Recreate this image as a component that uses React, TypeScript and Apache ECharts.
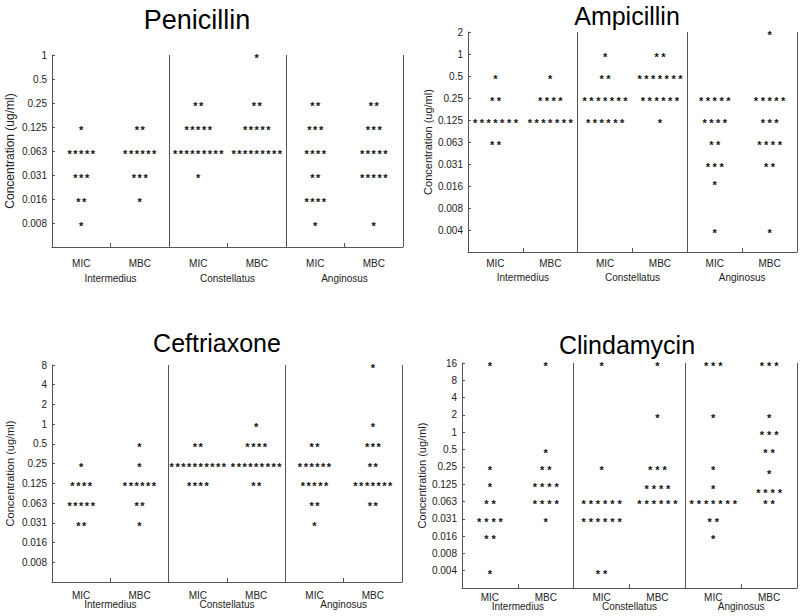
import React, { useEffect, useRef } from 'react';
import * as echarts from 'echarts';

// Tick levels of the concentration axis (log2 spaced)
const TICK_VALUES = [0.004, 0.008, 0.016, 0.031, 0.063, 0.125, 0.25, 0.5, 1, 2, 4, 8, 16];
const TICK_LABELS = ['0.004', '0.008', '0.016', '0.031', '0.063', '0.125', '0.25', '0.5', '1', '2', '4', '8', '16'];
const GROUPS = ['Intermedius', 'Constellatus', 'Anginosus'];
const TESTS = ['MIC', 'MBC'];
const Y_NAME = 'Concentration (ug/ml)';

// rows: [group, test, concentration, number of isolates]
const PENICILLIN: [string, string, number, number][] = [
  ['Intermedius', 'MIC', 0.125, 1], ['Intermedius', 'MIC', 0.063, 5], ['Intermedius', 'MIC', 0.031, 3],
  ['Intermedius', 'MIC', 0.016, 2], ['Intermedius', 'MIC', 0.008, 1],
  ['Intermedius', 'MBC', 0.125, 2], ['Intermedius', 'MBC', 0.063, 6], ['Intermedius', 'MBC', 0.031, 3],
  ['Intermedius', 'MBC', 0.016, 1],
  ['Constellatus', 'MIC', 0.25, 2], ['Constellatus', 'MIC', 0.125, 5], ['Constellatus', 'MIC', 0.063, 9],
  ['Constellatus', 'MIC', 0.031, 1],
  ['Constellatus', 'MBC', 1, 1], ['Constellatus', 'MBC', 0.25, 2], ['Constellatus', 'MBC', 0.125, 5],
  ['Constellatus', 'MBC', 0.063, 9],
  ['Anginosus', 'MIC', 0.25, 2], ['Anginosus', 'MIC', 0.125, 3], ['Anginosus', 'MIC', 0.063, 4],
  ['Anginosus', 'MIC', 0.031, 2], ['Anginosus', 'MIC', 0.016, 4], ['Anginosus', 'MIC', 0.008, 1],
  ['Anginosus', 'MBC', 0.25, 2], ['Anginosus', 'MBC', 0.125, 3], ['Anginosus', 'MBC', 0.063, 5],
  ['Anginosus', 'MBC', 0.031, 5], ['Anginosus', 'MBC', 0.008, 1],
];

const AMPICILLIN: [string, string, number, number][] = [
  ['Intermedius', 'MIC', 0.5, 1], ['Intermedius', 'MIC', 0.25, 2], ['Intermedius', 'MIC', 0.125, 7],
  ['Intermedius', 'MIC', 0.063, 2],
  ['Intermedius', 'MBC', 0.5, 1], ['Intermedius', 'MBC', 0.25, 4], ['Intermedius', 'MBC', 0.125, 7],
  ['Constellatus', 'MIC', 1, 1], ['Constellatus', 'MIC', 0.5, 2], ['Constellatus', 'MIC', 0.25, 7],
  ['Constellatus', 'MIC', 0.125, 6],
  ['Constellatus', 'MBC', 1, 2], ['Constellatus', 'MBC', 0.5, 7], ['Constellatus', 'MBC', 0.25, 6],
  ['Constellatus', 'MBC', 0.125, 1],
  ['Anginosus', 'MIC', 0.25, 5], ['Anginosus', 'MIC', 0.125, 4], ['Anginosus', 'MIC', 0.063, 2],
  ['Anginosus', 'MIC', 0.031, 3], ['Anginosus', 'MIC', 0.018, 1], ['Anginosus', 'MIC', 0.004, 1],
  ['Anginosus', 'MBC', 2, 1], ['Anginosus', 'MBC', 0.25, 5], ['Anginosus', 'MBC', 0.125, 3],
  ['Anginosus', 'MBC', 0.063, 4], ['Anginosus', 'MBC', 0.031, 2], ['Anginosus', 'MBC', 0.004, 1],
];

const CEFTRIAXONE: [string, string, number, number][] = [
  ['Intermedius', 'MIC', 0.25, 1], ['Intermedius', 'MIC', 0.125, 4], ['Intermedius', 'MIC', 0.063, 5],
  ['Intermedius', 'MIC', 0.031, 2],
  ['Intermedius', 'MBC', 0.5, 1], ['Intermedius', 'MBC', 0.25, 1], ['Intermedius', 'MBC', 0.125, 6],
  ['Intermedius', 'MBC', 0.063, 2], ['Intermedius', 'MBC', 0.031, 1],
  ['Constellatus', 'MIC', 0.5, 2], ['Constellatus', 'MIC', 0.25, 10], ['Constellatus', 'MIC', 0.125, 4],
  ['Constellatus', 'MBC', 1, 1], ['Constellatus', 'MBC', 0.5, 4], ['Constellatus', 'MBC', 0.25, 9],
  ['Constellatus', 'MBC', 0.125, 2],
  ['Anginosus', 'MIC', 0.5, 2], ['Anginosus', 'MIC', 0.25, 6], ['Anginosus', 'MIC', 0.125, 5],
  ['Anginosus', 'MIC', 0.063, 2], ['Anginosus', 'MIC', 0.031, 1],
  ['Anginosus', 'MBC', 8, 1], ['Anginosus', 'MBC', 1, 1], ['Anginosus', 'MBC', 0.5, 3],
  ['Anginosus', 'MBC', 0.25, 2], ['Anginosus', 'MBC', 0.125, 7], ['Anginosus', 'MBC', 0.063, 2],
];

const CLINDAMYCIN: [string, string, number, number][] = [
  ['Intermedius', 'MIC', 16, 1], ['Intermedius', 'MIC', 0.25, 1], ['Intermedius', 'MIC', 0.125, 1],
  ['Intermedius', 'MIC', 0.063, 2], ['Intermedius', 'MIC', 0.031, 4], ['Intermedius', 'MIC', 0.016, 2],
  ['Intermedius', 'MIC', 0.004, 1],
  ['Intermedius', 'MBC', 16, 1], ['Intermedius', 'MBC', 0.5, 1], ['Intermedius', 'MBC', 0.25, 2],
  ['Intermedius', 'MBC', 0.125, 4], ['Intermedius', 'MBC', 0.063, 4], ['Intermedius', 'MBC', 0.031, 1],
  ['Constellatus', 'MIC', 16, 1], ['Constellatus', 'MIC', 0.25, 1], ['Constellatus', 'MIC', 0.063, 6],
  ['Constellatus', 'MIC', 0.031, 6], ['Constellatus', 'MIC', 0.004, 2],
  ['Constellatus', 'MBC', 16, 1], ['Constellatus', 'MBC', 2, 1], ['Constellatus', 'MBC', 0.25, 3],
  ['Constellatus', 'MBC', 0.114, 4], ['Constellatus', 'MBC', 0.063, 6],
  ['Anginosus', 'MIC', 16, 3], ['Anginosus', 'MIC', 2, 1], ['Anginosus', 'MIC', 0.25, 1],
  ['Anginosus', 'MIC', 0.114, 1], ['Anginosus', 'MIC', 0.063, 7], ['Anginosus', 'MIC', 0.031, 2],
  ['Anginosus', 'MIC', 0.016, 1],
  ['Anginosus', 'MBC', 16, 3], ['Anginosus', 'MBC', 2, 1], ['Anginosus', 'MBC', 1, 3],
  ['Anginosus', 'MBC', 0.5, 2], ['Anginosus', 'MBC', 0.213, 1], ['Anginosus', 'MBC', 0.1, 4],
  ['Anginosus', 'MBC', 0.063, 2],
];

const toY = (c: number) => {
  const i = TICK_VALUES.indexOf(c);
  return i >= 0 ? i - 8 : Math.log2(c);
};

const PANELS = [
  { title: 'Penicillin', data: PENICILLIN, grid: { left: 52, top: 55, width: 351, height: 192 }, yMin: -8, yMax: 0,
    tx: 197, ty: 20, tSize: 27, nameGap: 36, nameSize: 12, labMargin: 11, grpOffset: 26, sp: 5.8 },
  { title: 'Ampicillin', data: AMPICILLIN, grid: { left: 468, top: 32, width: 329, height: 220 }, yMin: -9, yMax: 1,
    tx: 627, ty: 16, tSize: 25, nameGap: 35, nameSize: 11, labMargin: 6, grpOffset: 20, sp: 6.8 },
  { title: 'Ceftriaxone', data: CEFTRIAXONE, grid: { left: 52, top: 365, width: 350, height: 217 }, yMin: -8, yMax: 3,
    tx: 217, ty: 343, tSize: 25, nameGap: 37, nameSize: 11, labMargin: 8, grpOffset: 17, sp: 5.8 },
  { title: 'Clindamycin', data: CLINDAMYCIN, grid: { left: 462, top: 363, width: 335, height: 225 }, yMin: -9, yMax: 4,
    tx: 627, ty: 345, tSize: 25, nameGap: 35, nameSize: 11, labMargin: 4, grpOffset: 13, sp: 7.2 },
];

const FONT = 'Liberation Sans, Arial, sans-serif';
const LINE = '#555';

export default function App() {
  const ref = useRef<HTMLDivElement>(null);
  useEffect(() => {
    document.body.style.margin = '0';
    if (!ref.current) return;
    const chart = echarts.init(ref.current, undefined, { renderer: 'svg' });
    const grids: any[] = [];
    const xAxes: any[] = [];
    const yAxes: any[] = [];
    const series: any[] = [];
    const graphics: any[] = [];
    PANELS.forEach((p, i) => {
      grids.push({ ...p.grid, containLabel: false });
      xAxes.push({
        type: 'value', gridIndex: i, min: 0, max: 6, position: 'bottom',
        axisLine: { show: true, onZero: false, lineStyle: { color: LINE, width: 1 } },
        axisTick: { show: true, customValues: [1, 3, 5], inside: true, length: 4, lineStyle: { color: LINE } },
        axisLabel: {
          customValues: [0.5, 1.5, 2.5, 3.5, 4.5, 5.5], margin: p.labMargin, fontSize: 10, lineHeight: 10,
          fontFamily: FONT, color: '#222',
          formatter: (v: number) => TESTS[Math.round(v - 0.5) % 2],
        },
        splitLine: { show: false },
      });
      xAxes.push({
        type: 'value', gridIndex: i, min: 0, max: 6, position: 'bottom', offset: p.grpOffset,
        axisLine: { show: false, onZero: false }, axisTick: { show: false }, splitLine: { show: false },
        axisLabel: {
          customValues: [1, 3, 5], margin: 0, fontSize: 10, lineHeight: 10, fontFamily: FONT, color: '#222',
          formatter: (v: number) => GROUPS[Math.round((v - 1) / 2)],
        },
      });
      yAxes.push({
        type: 'value', gridIndex: i, min: p.yMin, max: p.yMax, interval: 1,
        axisLine: { show: true, onZero: false, lineStyle: { color: LINE, width: 1 } },
        axisTick: { show: true, inside: true, length: 3, lineStyle: { color: LINE } },
        axisLabel: {
          fontSize: 10, fontFamily: FONT, color: '#222', margin: 5,
          formatter: (v: number) => (v === p.yMin ? '' : TICK_LABELS[v + 8]),
        },
        splitLine: { show: false },
        name: Y_NAME, nameLocation: 'middle', nameGap: p.nameGap,
        nameTextStyle: { fontSize: p.nameSize, fontFamily: FONT, color: '#222' },
      });
      const sp = p.sp;
      series.push({
        type: 'custom', coordinateSystem: 'cartesian2d', xAxisIndex: i * 2, yAxisIndex: i, clip: false,
        data: p.data.map((r) => [GROUPS.indexOf(r[0]) * 2 + TESTS.indexOf(r[1]) + 0.5, toY(r[2]), r[3]]),
        renderItem: (params: any, api: any) => {
          const pt = api.coord([api.value(0), api.value(1)]);
          const n = api.value(2);
          const children: any[] = [];
          for (let j = 0; j < n; j++) {
            children.push({
              type: 'text', x: pt[0] + (j - (n - 1) / 2) * sp, y: pt[1] + 3,
              style: { text: '*', fill: '#111', fontSize: 11, lineHeight: 8, fontWeight: 'bold', fontFamily: FONT, align: 'center', verticalAlign: 'middle' },
            });
          }
          return { type: 'group', children };
        },
        markLine: {
          silent: true, symbol: 'none', label: { show: false },
          lineStyle: { color: LINE, width: 1, type: 'solid' },
          data: [{ xAxis: 2 }, { xAxis: 4 }, { xAxis: 6 }],
        },
      });
      graphics.push({
        type: 'text', x: p.tx, y: p.ty,
        style: { text: p.title, fontSize: p.tSize, fontFamily: FONT, fill: '#000', align: 'center', verticalAlign: 'middle' },
      });
    });
    chart.setOption({
      animation: false,
      backgroundColor: '#fff',
      grid: grids,
      xAxis: xAxes,
      yAxis: yAxes,
      series,
      graphic: graphics,
    });
    return () => chart.dispose();
  }, []);
  return <div ref={ref} style={{ width: 800, height: 616 }} />;
}
